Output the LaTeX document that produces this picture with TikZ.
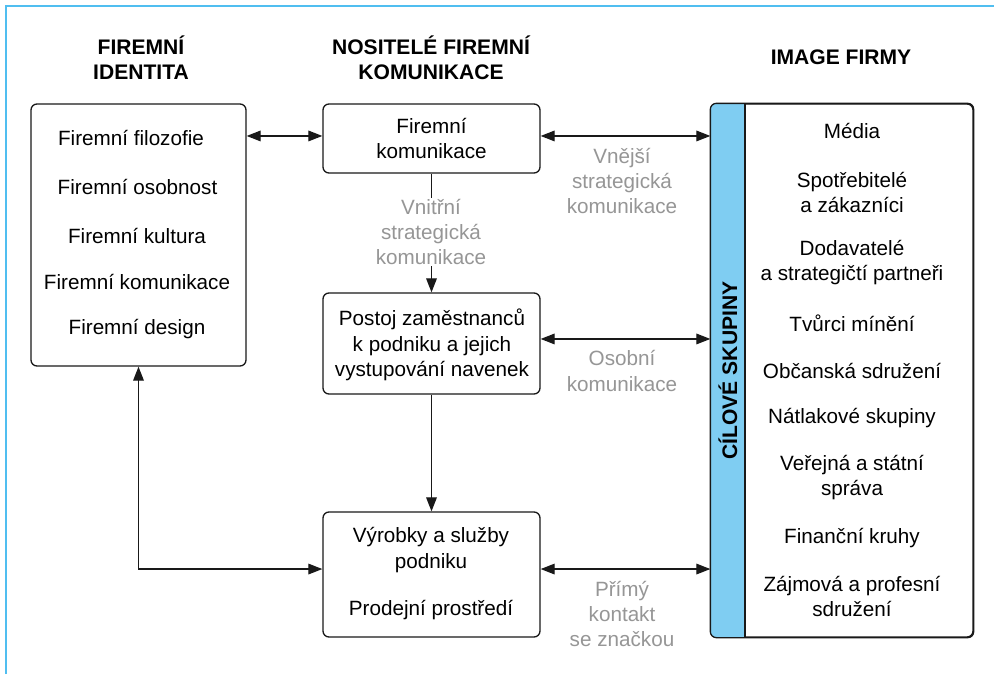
\documentclass[tikz,border=0pt]{standalone}
\usepackage{fontspec}
\setmainfont{Liberation Sans}
\usetikzlibrary{arrows.meta}

\definecolor{framecol}{RGB}{80,190,240}
\definecolor{stripcol}{RGB}{127,205,242}
\definecolor{notegray}{RGB}{150,150,150}
\definecolor{linecol}{RGB}{25,25,25}

\begin{document}
\begin{tikzpicture}[x=0.75pt,y=-0.75pt,
    font=\fontsize{15.5}{19}\selectfont,
    box/.style={draw=linecol, line width=1pt, rounded corners=4.5pt, fill=white, inner sep=0pt},
    sized/.style 2 args={minimum width=#1*0.75pt, minimum height=#2*0.75pt},
    head/.style={font=\fontsize{15.8}{19}\selectfont\bfseries, align=center},
    item/.style={align=center, inner sep=1pt},
    note/.style={text=notegray, align=center, fill=white, inner sep=1pt},
    link/.style={draw=linecol, line width=0.9pt, -{Triangle[length=10.5pt,width=8pt]}},
    twoway/.style={draw=linecol, line width=0.9pt, {Triangle[length=10.5pt,width=8pt]}-{Triangle[length=10.5pt,width=8pt]}}]
      \useasboundingbox (0,0) rectangle (994,674);

      % Frame
      \draw[framecol, line width=1.4pt] (6,674) -- (6,6) -- (994,6);

      % Column headings
      \node[head] (h1) at (141,57.5) {FIREMNÍ\\IDENTITA};
      \node[head] (h2) at (431,57.5) {NOSITELÉ FIREMNÍ\\KOMUNIKACE};
      \node[head] (h3) at (841,57) {IMAGE FIRMY};

      % Boxes
      \node[box, sized={215}{262}] (idbox) at (138.5,235) {};
      \node[box, sized={217}{69}] (fk) at (431.5,138.5) {};
      \node[box, sized={217}{101}] (post) at (431.5,343.5) {};
      \node[box, sized={217}{125}] (vyr) at (431.5,574.5) {};
      \node[box, sized={262}{533}] (tg) at (842,370.5) {};

      % Blue strip of the target groups
      \coordinate (stripr) at (745,637);
      \begin{scope}
        \clip[rounded corners=4.5pt] (tg.south west) rectangle (tg.north east);
        \fill[stripcol] (tg.north west) rectangle (stripr);
      \end{scope}
      \draw[linecol, line width=1pt, rounded corners=4.5pt] (tg.south west) rectangle (tg.north east);
      \draw[linecol, line width=1pt] (stripr) -- (stripr |- tg.north);
      \node[head, rotate=90] (cs) at (728,370.5) {CÍLOVÉ SKUPINY};

      % Corporate identity
      \foreach \t/\x/\y [count=\i] in {Firemní filozofie/131/138, Firemní osobnost/137.5/187,
          Firemní kultura/137/236, Firemní komunikace/137/282, Firemní design/137/329} {
        \node[item] (id\i) at (\x,\y) {\t};
      }

      % Carriers
      \node[item] (fkt) at (fk) {Firemní\\komunikace};
      \node[item] (postt) at (432,345) {Postoj zaměstnanců\\k podniku a jejich\\vystupování navenek};
      \node[item] (vyrt) at (431,550) {Výrobky a služby\\podniku};
      \node[item] (prod) at (431,610) {Prodejní prostředí};

      % Target groups
      \foreach \t/\y [count=\i] in {Média/131, Spotřebitelé\\a zákazníci/192.5,
          Dodavatelé\\a strategičtí partneři/262.5, Tvůrci mínění/323,
          Občanská sdružení/371, Nátlakové skupiny/418,
          Veřejná a státní\\správa/477.5, Finanční kruhy/538,
          Zájmová a profesní\\sdružení/596.5} {
        \node[item] (tg\i) at (852,\y) {\t};
      }

      % Connections
      \draw[twoway] ([yshift=1.9pt]fk.west -| idbox.east) -- ([yshift=1.9pt]fk.west);
      \draw[twoway] ([yshift=1.9pt]fk.east) -- ([yshift=1.9pt]fk.east -| tg.west);
      \draw[link] (fk) -- (post);
      \node[note] (vni) at (431,232) {Vnitřní\\strategická\\komunikace};
      \draw[twoway] ([yshift=3.4pt]post.east) -- ([yshift=3.4pt]post.east -| tg.west);
      \draw[link] (post) -- (vyr);
      \draw[twoway] ([yshift=4.1pt]vyr.east) -- ([yshift=4.1pt]vyr.east -| tg.west);
      \draw[twoway] (idbox.south) |- ([yshift=4.1pt]vyr.west);

      % Communication labels
      \node[note] (vne) at (622,181) {Vnější\\strategická\\komunikace};
      \node[note] (oso) at (622,371) {Osobní\\komunikace};
      \node[note] (pri) at (622,614) {Přímý\\kontakt\\se značkou};
    \end{tikzpicture}
\end{document}
